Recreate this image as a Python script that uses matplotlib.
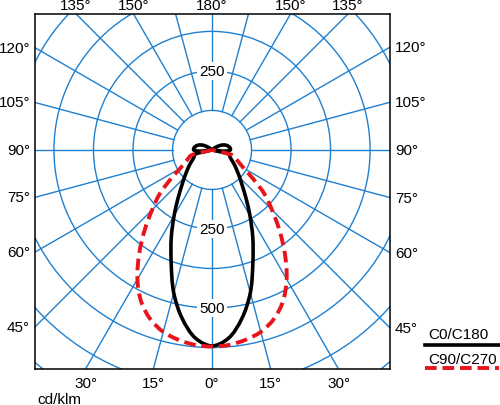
import numpy as np
import matplotlib
matplotlib.use("Agg")
import matplotlib.pyplot as plt
from matplotlib.patches import Circle, PathPatch
from matplotlib.path import Path
from matplotlib.lines import Line2D

plt.rcParams['font.family'] = ['Liberation Sans', 'DejaVu Sans']

# ---- data (cd/klm) ----
gamma = [0, 5, 10, 15, 20, 25, 30, 35, 40, 45, 50, 55, 60, 65, 70, 75, 80, 85, 90,
         95, 100, 105, 110, 115, 120, 125, 130, 135, 140, 145, 150, 155, 160, 165,
         170, 175, 180]
c0_c180 = [620, 598, 542, 468, 378, 305, 240, 188, 150, 124, 104, 89, 76, 66, 60, 57, 0, 42, 58,
           58, 55, 51, 45, 37, 27, 15, 5, 0, 0, 0, 0, 0, 0, 0, 0, 0, 0]
c90_c270 = [622, 619, 610, 596, 570, 530, 472, 402, 332, 268, 216, 158, 116, 94, 80, 70, 0, 0, 0,
            0, 0, 0, 0, 0, 0, 0, 0, 0, 0, 0, 0, 0, 0, 0, 0, 0, 0]
series_names = ["C0/C180", "C90/C270"]
ring_step = 125
ring_labels = [(250, "250"), (-250, "250"), (-500, "500")]
angle_labels = {0: "0°", 15: "15°", 30: "30°", 45: "45°", 60: "60°", 75: "75°",
                90: "90°", 105: "105°", 120: "120°", 135: "135°", 150: "150°", 180: "180°"}
unit_label = "cd/klm"

BLUE = '#1f80d0'
RED = '#e8141c'

W, H = 500, 406
fig = plt.figure(figsize=(W / 100, H / 100), dpi=100)
ax = fig.add_axes([35 / W, (H - 370) / H, 355 / W, 355 / H])
xmin, xmax, ymin, ymax = -560, 563, -693, 430
ax.set_xlim(xmin, xmax)
ax.set_ylim(ymin, ymax)
ax.set_aspect('equal', adjustable='box')
ax.set_xticks([])
ax.set_yticks([])
for s in ax.spines.values():
    s.set_linewidth(1.1)
    s.set_color('black')
    s.set_zorder(10)

# grid rings
for k in range(1, 8):
    ax.add_patch(Circle((0, 0), k * ring_step, fill=False, ec=BLUE, lw=1.0, zorder=1))
# radial lines
for a in range(0, 360, 15):
    t = np.radians(a)
    ax.plot([ring_step * np.sin(t), 1500 * np.sin(t)],
            [-ring_step * np.cos(t), -1500 * np.cos(t)], color=BLUE, lw=1.0, zorder=1)


def smooth_path(pts, alpha=0.5):
    """Centripetal Catmull-Rom through pts, as cubic Bezier path."""
    pts = np.asarray(pts, dtype=float)
    n = len(pts)
    ext = np.vstack([2 * pts[0] - pts[1], pts, 2 * pts[-1] - pts[-2]])
    verts = [pts[0]]
    codes = [Path.MOVETO]
    for i in range(n - 1):
        p0, p1, p2, p3 = ext[i], ext[i + 1], ext[i + 2], ext[i + 3]
        d1 = max(np.linalg.norm(p1 - p0) ** alpha, 1e-6)
        d2 = max(np.linalg.norm(p2 - p1) ** alpha, 1e-6)
        d3 = max(np.linalg.norm(p3 - p2) ** alpha, 1e-6)
        b1 = (d1 ** 2 * p2 - d2 ** 2 * p0 + (2 * d1 ** 2 + 3 * d1 * d2 + d2 ** 2) * p1) / (3 * d1 * (d1 + d2))
        b2 = (d3 ** 2 * p1 - d2 ** 2 * p3 + (2 * d3 ** 2 + 3 * d3 * d2 + d2 ** 2) * p2) / (3 * d3 * (d3 + d2))
        verts += [b1, b2, p2]
        codes += [Path.CURVE4] * 3
    return Path(verts, codes)


def curve_pieces(vals):
    g = np.radians(np.array(gamma, dtype=float))
    v = np.array(vals, dtype=float)
    gg = np.concatenate([-g[::-1], g[1:]])
    vv = np.concatenate([v[::-1], v[1:]])
    xs, ys = vv * np.sin(gg), -vv * np.cos(gg)
    pieces = []
    cur = None
    for i in range(len(vv)):
        if vv[i] > 0:
            if cur is None:
                cur = [(xs[i - 1], ys[i - 1])] if i > 0 else []
            cur.append((xs[i], ys[i]))
        else:
            if cur is not None:
                cur.append((xs[i], ys[i]))
                pieces.append(cur)
                cur = None
    if cur is not None:
        pieces.append(cur)
    return pieces


for vals, st in [(c0_c180, dict(ec='black', lw=2.6, ls='-', zorder=5)),
                 (c90_c270, dict(ec=RED, lw=2.8, ls=(0, (3.0, 1.5)), zorder=6))]:
    for pc in curve_pieces(vals):
        ax.add_patch(PathPatch(smooth_path(pc), fill=False, capstyle='butt',
                               joinstyle='round', **st))

# ring value labels
for yv, txt in ring_labels:
    ax.text(0, yv, txt, ha='center', va='center', fontsize=11, zorder=4,
            bbox=dict(boxstyle='square,pad=0.12', fc='white', ec='none'))

# angle labels at the frame edges
for a in range(-165, 181, 15):
    key = abs(a)
    if key not in angle_labels:
        continue
    t = np.radians(a)
    dx, dy = np.sin(t), -np.cos(t)
    ts = []
    if dx > 1e-9:
        ts.append((xmax / dx, 'right'))
    if dx < -1e-9:
        ts.append((xmin / dx, 'left'))
    if dy > 1e-9:
        ts.append((ymax / dy, 'top'))
    if dy < -1e-9:
        ts.append((ymin / dy, 'bottom'))
    tt, side = min(ts, key=lambda z: z[0])
    px, py = tt * dx, tt * dy
    txt = angle_labels[key]
    if side == 'right':
        ax.annotate(txt, (xmax, py), xytext=(3.6, 0), textcoords='offset points',
                    ha='left', va='center', fontsize=11, annotation_clip=False)
    elif side == 'left':
        ax.annotate(txt, (xmin, py), xytext=(-3.6, 0), textcoords='offset points',
                    ha='right', va='center', fontsize=11, annotation_clip=False)
    elif side == 'top':
        ax.annotate(txt, (px, ymax), xytext=(0, 1.5), textcoords='offset points',
                    ha='center', va='bottom', fontsize=11, annotation_clip=False)
    else:
        ax.annotate(txt, (px, ymin), xytext=(0, -5), textcoords='offset points',
                    ha='center', va='top', fontsize=11, annotation_clip=False)

# unit label
fig.text(37 / W, 1 - 400 / H, unit_label, ha='left', va='center', fontsize=11)

# legend
styles = [dict(color='black', lw=2.6), dict(color=RED, lw=2.8, dashes=(3.0, 1.5))]
for i, (name, st) in enumerate(zip(series_names, styles)):
    ty = 335 + i * 25
    ly = 346 + i * 22.5
    fig.text(428 / W, 1 - ty / H, name, ha='left', va='center', fontsize=11)
    fig.add_artist(Line2D([425 / W, 499 / W], [1 - ly / H, 1 - ly / H],
                          transform=fig.transFigure, **st))

fig.savefig('out.png', dpi=100)
